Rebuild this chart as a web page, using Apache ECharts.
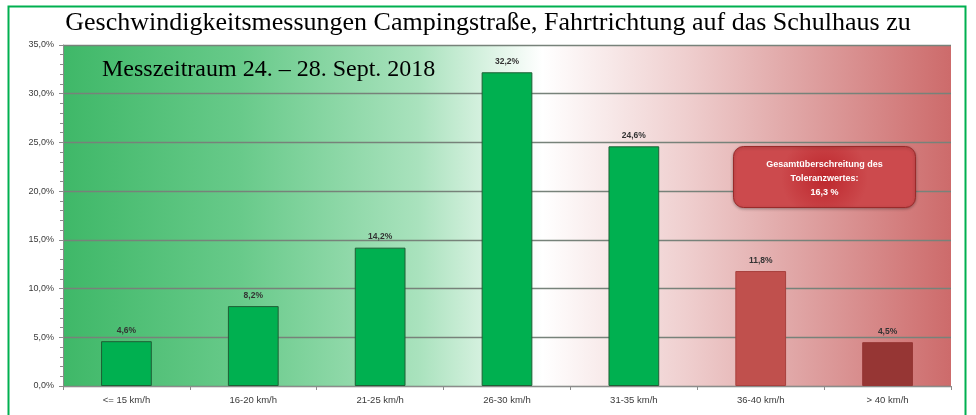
<!DOCTYPE html>
<html><head><meta charset="utf-8">
<script src="https://cdn.jsdelivr.net/npm/echarts@6/dist/echarts.min.js"></script>
<style>html,body{margin:0;padding:0;background:#fff}#c{width:976px;height:415px}</style>
</head><body><div id="c"></div>
<script>
const categories = ["<= 15 km/h", "16-20 km/h", "21-25 km/h", "26-30 km/h", "31-35 km/h", "36-40 km/h", "> 40 km/h"];
const values = [4.6, 8.2, 14.2, 32.2, 24.6, 11.8, 4.5];
const barColors = ["#00b050", "#00b050", "#00b050", "#00b050", "#00b050", "#c0504d", "#963634"];
const barBorders = ["#1f5f35", "#1f5f35", "#1f5f35", "#1f5f35", "#1f5f35", "#a8403d", "#963634"];
const yTicks = [0, 5, 10, 15, 20, 25, 30, 35];
const titleText = "Geschwindigkeitsmessungen Campingstraße, Fahrtrichtung auf das Schulhaus zu";
const periodText = "Messzeitraum 24. – 28. Sept. 2018";
const noteText = "Gesamtüberschreitung des\nToleranzwertes:\n16,3 %";

const fmt = v => v.toFixed(1).replace('.', ',') + '%';
const chart = echarts.init(document.getElementById('c'));
chart.setOption({
  animation: false,
  grid: {
    left: 63, right: 25, top: 45, bottom: 29, show: true, borderWidth: 0,
    backgroundColor: new echarts.graphic.LinearGradient(0, 0, 1, 0, [
      {offset: 0, color: '#3fb868'},
      {offset: 0.2, color: '#68ca8a'},
      {offset: 0.4, color: '#a9e2bd'},
      {offset: 0.54, color: '#ffffff'},
      {offset: 0.7, color: '#efcfcf'},
      {offset: 0.85, color: '#dd9d9d'},
      {offset: 1, color: '#cd6b6b'}
    ])
  },
  xAxis: {
    type: 'category', data: categories,
    axisLine: {lineStyle: {color: '#8c8c8c', width: 1}},
    axisTick: {show: true, alignWithLabel: false, length: 4, lineStyle: {color: '#8c8c8c'}},
    axisLabel: {color: '#3a3a3a', fontSize: 9.5, fontFamily: 'Liberation Sans', margin: 9}
  },
  yAxis: {
    type: 'value', min: 0, max: 35, interval: 5,
    axisLine: {show: true, lineStyle: {color: '#8c8c8c'}},
    axisTick: {show: true, length: 4, lineStyle: {color: '#8c8c8c'}},
    minorTick: {show: true, splitNumber: 5, length: 3, lineStyle: {color: '#8c8c8c'}},
    splitLine: {show: true, lineStyle: {color: '#77827a', width: 1.3}},
    axisLabel: {color: '#3a3a3a', fontSize: 9, fontFamily: 'Liberation Sans', margin: 9,
      formatter: v => yTicks.includes(v) ? fmt(v) : ''}
  },
  series: [{
    type: 'bar', barWidth: '40%',
    data: values.map((v, i) => ({value: v, itemStyle: {color: barColors[i], borderColor: barBorders[i], borderWidth: 1}})),
    label: {show: true, position: 'top', distance: 6, formatter: p => fmt(p.value),
      color: '#333', fontSize: 8.5, fontWeight: 'bold', fontFamily: 'Liberation Sans'}
  }],
  graphic: [
    {type: 'rect', left: 6, top: 4, shape: {width: 957, height: 420},
      style: {fill: 'none', stroke: '#00b050', lineWidth: 2}, z: 100},
    {type: 'text', left: 'center', top: 10,
      style: {text: titleText, font: '26px "Liberation Serif"', fill: '#000'}},
    {type: 'text', left: 102, top: 58, z: 50,
      style: {text: periodText, font: '24px "Liberation Serif"', fill: '#000'}},
    {type: 'group', left: 733, top: 146, z: 100, children: [
      {type: 'rect', z: 100, shape: {width: 182, height: 61, r: 10},
        style: {fill: new echarts.graphic.RadialGradient(0.5, 0.5, 0.7, [
          {offset: 0, color: '#bd262c'}, {offset: 1, color: '#cc4a4d'}]),
          stroke: '#9a2a2a', lineWidth: 1, shadowBlur: 3, shadowColor: 'rgba(0,0,0,0.3)', shadowOffsetY: 1}},
      {type: 'text', z: 101, x: 91, y: 32,
        style: {text: noteText, font: 'bold 9px "Liberation Sans"', fill: '#fff', align: 'center', verticalAlign: 'middle', lineHeight: 14}}
    ]}
  ]
});
</script></body></html>
